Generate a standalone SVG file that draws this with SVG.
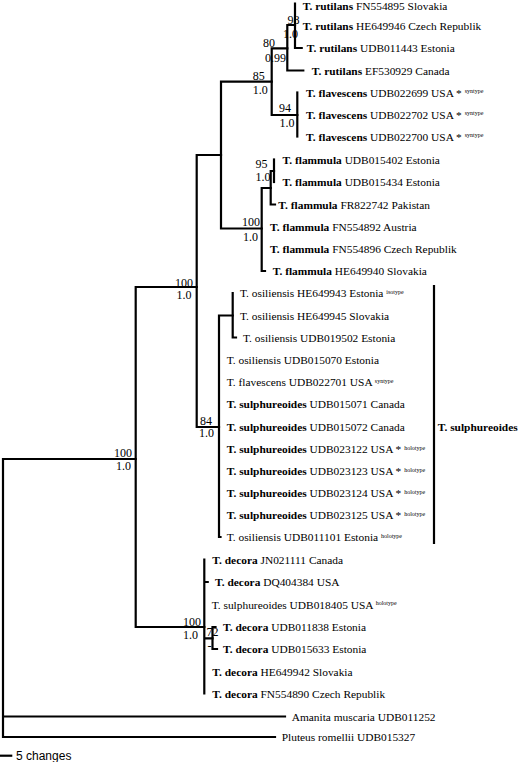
<svg xmlns="http://www.w3.org/2000/svg" width="520" height="762" viewBox="0 0 520 762">
<style>
.t{font-family:"Liberation Serif","Times New Roman",serif;font-size:11.4px;fill:#000}
.b{font-weight:bold}
.sup{font-size:6px}
.s{font-family:"Liberation Serif","Times New Roman",serif;font-size:12px;fill:#000}
.e{stroke:#000;stroke-width:2.2;fill:none;stroke-linecap:square;stroke-linejoin:miter}
.sc{font-family:"Liberation Sans",Arial,sans-serif;font-size:12px;fill:#000}
</style>
<rect width="520" height="762" fill="#fff"/>
<g id="connectors" class="e">
<path d="M3,459V737M3,459H135.7M3,716.5H285M3,737H275"/>
<path d="M135.7,287V627M135.7,287H196.7M135.7,627H204.3"/>
<path d="M196.7,155V427M196.7,155H221M196.7,427H219"/>
<path d="M221,81.7V228.5M221,81.7H271.7M221,228.5H261.7"/>
<path d="M271.7,48.3V115M271.7,48.3H287.3M271.7,115H297.3"/>
<path d="M287.3,25V70.5M287.3,25H295M287.3,70.5H303.3"/>
<path d="M295,3.5V48M295,48H301.7"/>
<path d="M297.3,92.5V136.5"/>
<path d="M261.7,188V271M261.7,271H265M261.7,188H270.7"/>
<path d="M270.7,171V204.5M270.7,171H274M270.7,204.5H275"/>
<path d="M274,159.5V182"/>
<path d="M219,315.5V537M219,315.5H232.7M219,537H220.5"/>
<path d="M232.7,293V337.5M232.7,337.5H236"/>
<path d="M204.3,559.5V693.5M204.3,582H207.7M204.3,638.3H212.5"/>
<path d="M212.5,627V649M212.5,627H215.5M212.5,649H217"/>
<path d="M434,286V543"/>
<path d="M0,755.7H12.3" stroke-linecap="butt"/>
</g>
<g id="support">
<text class="s" x="287.5" y="24">98</text>
<text class="s" x="283" y="37.5">1.0</text>
<text class="s" x="263" y="47">80</text>
<text class="s" x="265" y="62">0.99</text>
<text class="s" x="252.7" y="80">85</text>
<text class="s" x="252.7" y="94">1.0</text>
<text class="s" x="279" y="111.5">94</text>
<text class="s" x="279.5" y="127">1.0</text>
<text class="s" x="255.5" y="167.5">95</text>
<text class="s" x="255.5" y="181">1.0</text>
<text class="s" x="242" y="225.5">100</text>
<text class="s" x="243" y="240.5">1.0</text>
<text class="s" x="175" y="286.5">100</text>
<text class="s" x="176.5" y="299">1.0</text>
<text class="s" x="114" y="456.5">100</text>
<text class="s" x="116" y="470">1.0</text>
<text class="s" x="200" y="424.5">84</text>
<text class="s" x="199" y="437">1.0</text>
<text class="s" x="183" y="626">100</text>
<text class="s" x="183" y="639">1.0</text>
<text class="s" x="206.5" y="635.5">72</text>
<text class="s" x="207.5" y="649.5">-</text>
</g>
<g id="n1"><text class="t" x="302.7" y="9.5"><tspan class="b">T. rutilans</tspan> FN554895 Slovakia</text></g>
<g id="n2"><text class="t" x="302.7" y="30"><tspan class="b">T. rutilans</tspan> HE649946 Czech Republik</text></g>
<g id="n3"><text class="t" x="306.7" y="52"><tspan class="b">T. rutilans</tspan> UDB011443 Estonia</text></g>
<g id="n4"><text class="t" x="311.7" y="74.5"><tspan class="b">T. rutilans</tspan> EF530929 Canada</text></g>
<g id="n5"><text class="t" x="306" y="96.5"><tspan class="b">T. flavescens</tspan> UDB022699 USA * <tspan class="sup" dy="-3.5">syntype</tspan></text></g>
<g id="n6"><text class="t" x="306" y="118.5"><tspan class="b">T. flavescens</tspan> UDB022702 USA * <tspan class="sup" dy="-3.5">syntype</tspan></text></g>
<g id="n7"><text class="t" x="306" y="140.5"><tspan class="b">T. flavescens</tspan> UDB022700 USA * <tspan class="sup" dy="-3.5">syntype</tspan></text></g>
<g id="n8"><text class="t" x="282.5" y="163.5"><tspan class="b">T. flammula</tspan> UDB015402 Estonia</text></g>
<g id="n9"><text class="t" x="282.5" y="186"><tspan class="b">T. flammula</tspan> UDB015434 Estonia</text></g>
<g id="n10"><text class="t" x="278.3" y="208.5"><tspan class="b">T. flammula</tspan> FR822742 Pakistan</text></g>
<g id="n11"><text class="t" x="270" y="231"><tspan class="b">T. flammula</tspan> FN554892 Austria</text></g>
<g id="n12"><text class="t" x="270" y="253"><tspan class="b">T. flammula</tspan> FN554896 Czech Republik</text></g>
<g id="n13"><text class="t" x="272.7" y="275"><tspan class="b">T. flammula</tspan> HE649940 Slovakia</text></g>
<g id="n14"><text class="t" x="240" y="297">T. osiliensis HE649943 Estonia <tspan class="sup" dy="-3.5">isotype</tspan></text></g>
<g id="n15"><text class="t" x="240" y="319.5">T. osiliensis HE649945 Slovakia</text></g>
<g id="n16"><text class="t" x="243" y="341.5">T. osiliensis UDB019502 Estonia</text></g>
<g id="n17"><text class="t" x="226.7" y="364">T. osiliensis UDB015070 Estonia</text></g>
<g id="n18"><text class="t" x="226.7" y="386">T. flavescens UDB022701 USA <tspan class="sup" dy="-3.5">syntype</tspan></text></g>
<g id="n19"><text class="t" x="226.7" y="408"><tspan class="b">T. sulphureoides</tspan> UDB015071 Canada</text></g>
<g id="n20"><text class="t" x="226.7" y="430.5"><tspan class="b">T. sulphureoides</tspan> UDB015072 Canada</text></g>
<g id="n21"><text class="t" x="226.7" y="453"><tspan class="b">T. sulphureoides</tspan> UDB023122 USA * <tspan class="sup" dy="-3.5">holotype</tspan></text></g>
<g id="n22"><text class="t" x="226.7" y="475"><tspan class="b">T. sulphureoides</tspan> UDB023123 USA * <tspan class="sup" dy="-3.5">holotype</tspan></text></g>
<g id="n23"><text class="t" x="226.7" y="497"><tspan class="b">T. sulphureoides</tspan> UDB023124 USA * <tspan class="sup" dy="-3.5">holotype</tspan></text></g>
<g id="n24"><text class="t" x="226.7" y="519"><tspan class="b">T. sulphureoides</tspan> UDB023125 USA * <tspan class="sup" dy="-3.5">holotype</tspan></text></g>
<g id="n25"><text class="t" x="226.7" y="541">T. osiliensis UDB011101 Estonia <tspan class="sup" dy="-3.5">holotype</tspan></text></g>
<g id="n26"><text class="t" x="212.3" y="563.5"><tspan class="b">T. decora</tspan> JN021111 Canada</text></g>
<g id="n27"><text class="t" x="215" y="586"><tspan class="b">T. decora</tspan> DQ404384 USA</text></g>
<g id="n28"><text class="t" x="211.7" y="608.5">T. sulphureoides UDB018405 USA <tspan class="sup" dy="-3.5">holotype</tspan></text></g>
<g id="n29"><text class="t" x="223" y="631"><tspan class="b">T. decora</tspan> UDB011838 Estonia</text></g>
<g id="n30"><text class="t" x="223" y="653"><tspan class="b">T. decora</tspan> UDB015633 Estonia</text></g>
<g id="n31"><text class="t" x="212.3" y="675.5"><tspan class="b">T. decora</tspan> HE649942 Slovakia</text></g>
<g id="n32"><text class="t" x="212.3" y="697.5"><tspan class="b">T. decora</tspan> FN554890 Czech Republik</text></g>
<g id="n33"><text class="t" x="291.7" y="720.5">Amanita muscaria UDB011252</text></g>
<g id="n34"><text class="t" x="281.7" y="741">Pluteus romellii UDB015327</text></g>
<g id="clade"><text class="t b" x="437.7" y="430.5">T. sulphureoides</text></g>
<g id="scale"><text class="sc" x="16" y="760">5 changes</text></g>
</svg>
